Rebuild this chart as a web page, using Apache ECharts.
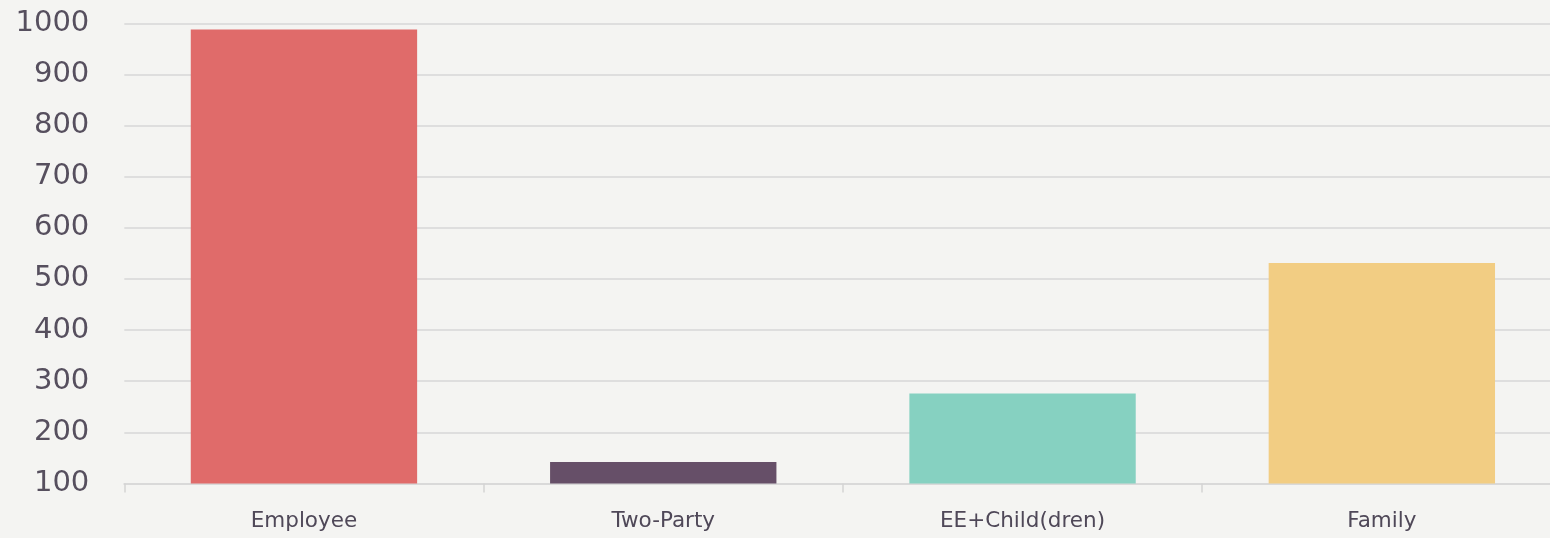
<!DOCTYPE html>
<html>
<head>
<meta charset="utf-8">
<style>
html,body{margin:0;padding:0;background:#f4f4f2;overflow:hidden;width:1550px;height:538px;}
#chart{width:1562px;height:538px;}
</style>
<script src="https://cdn.jsdelivr.net/npm/echarts@6/dist/echarts.min.js"></script>
</head>
<body>
<div id="chart"></div>
<script>
const categories = ['Employee', 'Two-Party', 'EE+Child(dren)', 'Family'];
const values = [988, 142, 276, 531];
const barColors = ['#e06b6a', '#664f68', '#86d1c1', '#f2cd83'];
const yMin = 100, yMax = 1000, yStep = 100;

const chart = echarts.init(document.getElementById('chart'), null, {renderer: 'canvas'});
chart.setOption({
  backgroundColor: '#f4f4f2',
  animation: false,
  grid: {left: 124.3, right: 0.5, top: 23.3, bottom: 54.5, containLabel: false},
  xAxis: {
    type: 'category',
    data: categories,
    axisLine: {lineStyle: {color: '#d9d9d9', width: 2}},
    axisTick: {show: true, length: 9, lineStyle: {color: '#d4d4d4', width: 1.5}},
    axisLabel: {color: '#4f4858', fontFamily: 'DejaVu Sans', fontSize: 21.5, margin: 27}
  },
  yAxis: {
    type: 'value',
    min: yMin, max: yMax, interval: yStep,
    axisLine: {show: false},
    axisTick: {show: false},
    splitLine: {lineStyle: {color: '#dedede', width: 2}},
    axisLabel: {color: '#564f5e', fontFamily: 'DejaVu Sans', fontSize: 29, margin: 35,
      formatter: v => String(v)}
  },
  series: [{
    type: 'bar',
    barWidth: '63%',
    clip: true,
    data: values.map((v, i) => ({value: v, itemStyle: {color: barColors[i]}}))
  }]
});
</script>
</body>
</html>
